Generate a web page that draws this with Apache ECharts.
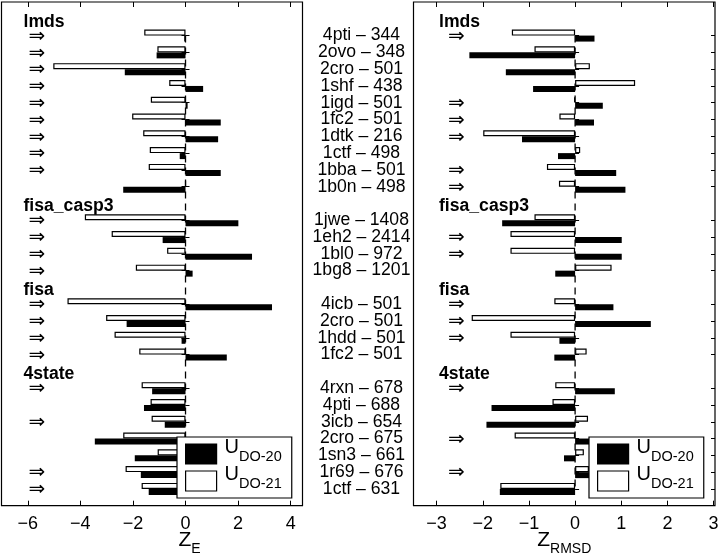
<!DOCTYPE html>
<html><head><meta charset="utf-8">
<script src="https://cdn.jsdelivr.net/npm/echarts@6/dist/echarts.min.js"></script>
<style>html,body{margin:0;padding:0;background:#fff}#c{width:720px;height:558px}</style>
</head><body><div id="c"></div>
<script>
// ---------------- data ----------------
const groupNames = ['lmds', 'fisa_casp3', 'fisa', '4state'];
const groupSizes = [10, 4, 4, 7];
const decoys = [
  '4pti – 344', '2ovo – 348', '2cro – 501', '1shf – 438', '1igd – 501',
  '1fc2 – 501', '1dtk – 216', '1ctf – 498', '1bba – 501', '1b0n – 498',
  '1jwe – 1408', '1eh2 – 2414', '1bl0 – 972', '1bg8 – 1201',
  '4icb – 501', '2cro – 501', '1hdd – 501', '1fc2 – 501',
  '4rxn – 678', '4pti – 688', '3icb – 654', '2cro – 675', '1sn3 – 661', '1r69 – 676', '1ctf – 631'
];
// Z_E
const zE_DO20 = [-0.05, -1.10, -2.31, 0.67, 0.08, 1.34, 1.24, -0.22, 1.34, -2.37,
                 2.01, -0.87, 2.53, 0.27,
                 3.29, -2.24, -0.15, 1.57,
                 -1.27, -1.58, -0.79, -3.45, -1.93, -1.70, -1.40];
const zE_DO21 = [-1.57, -1.07, -5.03, -0.62, -1.32, -2.03, -1.61, -1.36, -1.40, 0,
                 -3.83, -2.81, -0.70, -1.89,
                 -4.49, -3.02, -2.70, -1.76,
                 -1.67, -1.33, -1.29, -2.37, -1.06, -2.28, -1.67];
// Z_RMSD
const zR_DO20 = [0.42, -2.29, -1.50, -0.91, 0.60, 0.41, -1.15, -0.37, 0.89, 1.09,
                 -1.58, 1.01, 1.01, -0.43,
                 0.83, 1.64, -0.34, -0.45,
                 0.86, -1.81, -1.92, 0.50, -0.24, 0.40, -1.63];
const zR_DO21 = [-1.37, -0.88, 0.32, 1.30, -0.02, -0.34, -1.99, 0.11, -0.61, -0.35,
                 -0.88, -1.40, -1.40, 0.79,
                 -0.45, -2.24, -1.40, 0.25,
                 -0.43, -0.49, 0.28, -1.31, 0.19, 0.30, -1.62];
// arrow markers (1 = ⇒ shown)
const arrowE = [1,1,1,1,1,1,1,1,1,0, 1,1,1,1, 1,1,1,1, 1,0,1,0,0,1,1];
const arrowR = [1,0,0,0,1,1,1,0,1,1, 0,1,1,0, 1,1,1,0, 1,0,0,1,0,1,0];
const xTicksE = [-6, -4, -2, 0, 2, 4];
const xTicksR = [-3, -2, -1, 0, 1, 2, 3];
const seriesNames = ['DO-20', 'DO-21'];

// ---------------- build category slots ----------------
const cats = ['pad0'], slotRow = [-1], slotHeader = [null];
let r = 0;
groupNames.forEach((g, gi) => {
  cats.push('h' + gi); slotRow.push(-1); slotHeader.push(g);
  for (let k = 0; k < groupSizes[gi]; k++) {
    cats.push('r' + r); slotRow.push(r); slotHeader.push(null); r++;
  }
});
cats.push('pad1'); slotRow.push(-1); slotHeader.push(null);
const isRow = slotRow.map(v => v >= 0);
const firstRow = isRow.indexOf(true), lastRow = isRow.lastIndexOf(true);
const toSlots = arr => slotRow.map(v => v >= 0 ? arr[v] : null);

const FONT = 'Liberation Sans, Arial, Helvetica, sans-serif';
const fmtMinus = v => v < 0 ? '\u2212' + Math.abs(v) : String(v);

function innerLabels(arrows, pad) {
  return {
    show: true, inside: true, interval: 0, margin: pad.margin,
    formatter: (val, idx) => {
      const i = cats.indexOf(val);
      if (slotHeader[i]) return '{h|' + slotHeader[i] + '}';
      if (slotRow[i] >= 0 && arrows[slotRow[i]]) return '{a|\u21D2}';
      return '';
    },
    rich: {
      h: {fontFamily: FONT, fontWeight: 'bold', fontSize: 17.6, color: '#000', padding: [6, 0, 0, 0]},
      a: {fontFamily: 'DejaVu Sans, sans-serif', fontSize: 20, color: '#000', padding: [2, 0, 0, pad.arrow]}
    }
  };
}
const rowTicks = {show: true, inside: true, length: 4, interval: (i) => isRow[i], lineStyle: {color: '#000', width: 1}};
function yAx(grid, pos, extra) {
  return Object.assign({
    type: 'category', gridIndex: grid, position: pos, data: cats, inverse: true, boundaryGap: false,
    axisLine: {show: false}, axisTick: {show: false}, axisLabel: {show: false}, splitLine: {show: false}
  }, extra);
}
function xAx(grid, pos, min, max, ticks, name, namePadLeft) {
  const ax = {
    type: 'value', gridIndex: grid, position: pos, min: min, max: max,
    axisLine: {show: false}, splitLine: {show: false},
    axisTick: {show: true, inside: true, length: 5, customValues: ticks, lineStyle: {color: '#000', width: 1}},
    axisLabel: pos === 'bottom'
      ? {show: true, customValues: ticks, formatter: fmtMinus, fontFamily: FONT, fontSize: 18, color: '#000', margin: 9}
      : {show: false}
  };
  if (name) {
    ax.name = name; ax.nameLocation = 'middle'; ax.nameGap = 28; ax.nameMoveOverlap = false;
    ax.nameTextStyle = {
      padding: [0, 0, 0, namePadLeft],
      rich: {
        z: {fontFamily: FONT, fontSize: 21, color: '#000', lineHeight: 22, padding: [0, 0, 8, 0]},
        s: {fontFamily: FONT, fontSize: 14, color: '#000', lineHeight: 14, padding: [8, 0, 0, 0]}
      }
    };
  }
  return ax;
}
function barSeries(name, xi, yi, data, white) {
  return {
    name: name, type: 'bar', xAxisIndex: xi, yAxisIndex: yi, data: toSlots(data),
    barWidth: 6, barGap: '0%', z: 3, silent: true,
    itemStyle: white ? {color: '#fff', borderColor: '#000', borderWidth: 1.2} : {color: '#000'}
  };
}
function zeroLine(xi, yi) {
  return {
    type: 'line', xAxisIndex: xi, yAxisIndex: yi, z: 1, silent: true, symbol: 'none',
    data: [[0, firstRow], [0, lastRow]],
    lineStyle: {color: '#000', width: 1.3, type: [7, 5]}
  };
}
function legendAt(left) {
  return {
    data: seriesNames, orient: 'vertical', left: left, top: 437,
    icon: 'rect', itemWidth: 31, itemHeight: 20, itemGap: -7,
    padding: [0, 10, 0, 8], backgroundColor: '#fff', borderColor: '#000', borderWidth: 1.2,
    selectedMode: false,
    itemStyle: {borderColor: '#000', borderWidth: 1.2},
    formatter: n => '{u|U}{s|' + n + '}',
    textStyle: {
      rich: {
        u: {fontFamily: FONT, fontSize: 20, color: '#000', lineHeight: 19, padding: [0, 0, 14, 3]},
        s: {fontFamily: FONT, fontSize: 14.5, color: '#000', lineHeight: 14, padding: [5, 0, 0, 0]}
      }
    }
  };
}

const gridBase = {top: 2, height: 503.7, show: true, borderColor: '#000', borderWidth: 1.2,
                  backgroundColor: 'transparent', containLabel: false, outerBoundsMode: 'none'};
const option = {
  backgroundColor: '#fff',
  animation: false,
  grid: [
    Object.assign({left: 1.5, width: 301}, gridBase),
    Object.assign({left: 413.5, width: 301.5}, gridBase)
  ],
  xAxis: [
    xAx(0, 'bottom', -7, 4.45, xTicksE, '{z|Z}{s|E}', 75),
    xAx(0, 'top', -7, 4.45, xTicksE),
    xAx(1, 'bottom', -3.5, 3.03, xTicksR, '{z|Z}{s|RMSD}', 0),
    xAx(1, 'top', -3.5, 3.03, xTicksR)
  ],
  yAxis: [
    yAx(0, 'left', {axisTick: rowTicks, axisLabel: innerLabels(arrowE, {margin: 22, arrow: 5})}),
    yAx(0, 'right', {axisTick: rowTicks}),
    yAx(1, 'left', {axisTick: rowTicks, axisLabel: {
      show: true, interval: 0, margin: 52, align: 'center', fontFamily: FONT, fontSize: 17.6, color: '#000',
      formatter: (val) => { const i = cats.indexOf(val); return slotRow[i] >= 0 ? decoys[slotRow[i]] : ''; }
    }}),
    yAx(1, 'left', {axisLabel: innerLabels(arrowR, {margin: 25.5, arrow: 9})}),
    yAx(1, 'right', {axisTick: rowTicks})
  ],
  legend: [legendAt(177), legendAt(589)],
  series: [
    barSeries('DO-21', 0, 0, zE_DO21, true),
    barSeries('DO-20', 0, 0, zE_DO20, false),
    zeroLine(0, 0),
    barSeries('DO-21', 2, 2, zR_DO21, true),
    barSeries('DO-20', 2, 2, zR_DO20, false),
    zeroLine(2, 2)
  ]
};
const chart = echarts.init(document.getElementById('c'), null, {renderer: 'canvas'});
chart.setOption(option);
</script>
</body></html>
